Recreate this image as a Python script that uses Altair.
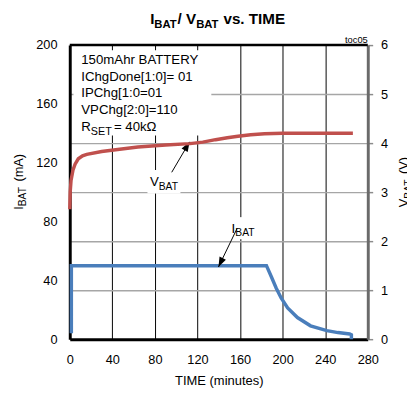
import altair as alt
import pandas as pd

# ---------------- data ----------------
time_ticks = [0, 40, 80, 120, 160, 200, 240, 280]
ibat_ticks = [0, 40, 80, 120, 160, 200]
vbat_ticks = [0, 1, 2, 3, 4, 5, 6]

vbat_time = [0, 0.4, 1.2, 3, 5, 8, 12, 16, 30, 45, 64, 90, 113, 125, 137, 148, 158, 170, 183, 200, 230, 266]
vbat_volts = [2.65, 3.0, 3.24, 3.45, 3.57, 3.68, 3.74, 3.77, 3.83, 3.87, 3.92, 3.96, 3.99, 4.02, 4.07, 4.11,
              4.14, 4.17, 4.19, 4.2, 4.2, 4.2]

ibat_time = [1.5, 1.5, 184.8, 189.4, 194, 198.6, 204.7, 213.9, 226.2, 241.5, 252, 263, 264.6, 264.6]
ibat_ma = [4, 50, 50, 42.5, 34.7, 28, 21.3, 14.7, 9.1, 5.8, 4.5, 3.5, 3, 0]

box_lines = ["150mAhr BATTERY", "IChgDone[1:0]= 01", "IPChg[1:0=01", "VPChg[2:0]=110"]

# ---------------- styling ----------------
FONT = "'Liberation Sans', Arial, sans-serif"
RED = "#c0504d"
BLUE = "#4a7ebb"

vdf = pd.DataFrame({"t": vbat_time, "v": vbat_volts, "i": list(range(len(vbat_time)))})
idf = pd.DataFrame({"t": ibat_time, "ma": ibat_ma, "i": list(range(len(ibat_time)))})
one = alt.InlineData(values=[{}])

hide_x_edges = {"condition": {"test": "datum.value == 0 || datum.value == 280", "value": 0}, "value": 1}
hide_v_edges = {"condition": {"test": "datum.value == 0 || datum.value == 6", "value": 0}, "value": 1}

x_enc = alt.X(
    "t:Q",
    scale=alt.Scale(domain=[0, 280], nice=False, zero=False),
    axis=alt.Axis(
        values=time_ticks, grid=True, gridColor="black", gridWidth=1, gridOpacity=hide_x_edges,
        domainColor="black", domainWidth=3, ticks=False, labelFlush=False,
        labelFont=FONT, labelFontSize=13, labelColor="black", labelPadding=15,
        title="TIME (minutes)", titleFont=FONT, titleFontSize=13.2, titleFontWeight="normal",
        titleColor="black", titlePadding=8,
    ),
)
y_ma = alt.Y(
    "ma:Q",
    scale=alt.Scale(domain=[0, 200], nice=False),
    axis=alt.Axis(
        orient="left", values=ibat_ticks, grid=False, ticks=False, domainColor="black", domainWidth=3,
        labelFont=FONT, labelFontSize=13, labelColor="black", labelPadding=13, labelFlush=False,
        title=None,
    ),
)


def dtxt(text, t, m, size, dx=0, dy=0, align="left", baseline="alphabetic"):
    return alt.Chart(one).mark_text(
        text=text, font=FONT, fontSize=size, align=align, baseline=baseline,
        dx=dx, dy=dy, color="black"
    ).encode(x=alt.datum(t), y=alt.datum(m))


def ptxt(text, px, py, size, weight="normal", angle=0, align="left"):
    return alt.Chart(one).mark_text(
        text=text, font=FONT, fontSize=size, fontWeight=weight, angle=angle,
        align=align, baseline="alphabetic", color="black"
    ).encode(x=alt.value(px), y=alt.value(py))


def wbox(t1, t2, m1, m2):
    return alt.Chart(one).mark_rect(color="white").encode(
        x=alt.datum(t1), x2=alt.datum(t2), y=alt.datum(m1), y2=alt.datum(m2))


def arrow(t0, m0, t1, m1, ang):
    shaft = alt.Chart(one).mark_rule(color="black", strokeWidth=1).encode(
        x=alt.datum(t0), y=alt.datum(m0), x2=alt.datum(t1), y2=alt.datum(m1))
    head = alt.Chart(one).mark_point(
        shape="M0,0 L-0.9,2.5 L0.9,2.5 Z", filled=True, color="black", opacity=1,
        size=64, angle=ang, strokeWidth=0
    ).encode(x=alt.datum(t1), y=alt.datum(m1))
    return [shaft, head]


ibat_line = alt.Chart(idf).mark_line(color=BLUE, strokeWidth=3.5).encode(
    x=x_enc, y=y_ma, order="i:Q")

top_rule = alt.Chart(one).mark_rule(color="black", strokeWidth=2.5).encode(
    x=alt.datum(0), x2=alt.datum(280), y=alt.datum(200))

ma_group = alt.layer(
    ibat_line,
    wbox(3.5, 133, 196.5, 138.5),
    wbox(73, 104, 115, 99),
    wbox(149, 176, 83, 68),
    top_rule,
    *arrow(95.8, 113.5, 112.6, 134.2, 30.5),
    *arrow(157.2, 75.3, 139.7, 49.1, 205.8),
    alt.Chart(one).mark_text(
        text=box_lines, font=FONT, fontSize=13.5, lineHeight=17.2, align="left",
        baseline="alphabetic", color="black"
    ).encode(x=alt.datum(10.8), y=alt.datum(187.3)),
    dtxt("R", 10.8, 141.5, 13.5),
    dtxt("SET", 10.8, 141.5, 11, dx=9.8, dy=4),
    dtxt("= 40kΩ", 10.8, 141.5, 13.5, dx=33.3),
    dtxt("V", 75.5, 104, 13.5),
    dtxt("BAT", 75.5, 104, 10.5, dx=8.8, dy=4),
    dtxt("I", 152, 72.5, 13.5),
    dtxt("BAT", 152, 72.5, 10.5, dx=3.8, dy=4),
)

vbat_line = alt.Chart(vdf).mark_line(color=RED, strokeWidth=3.5).encode(
    x=x_enc,
    y=alt.Y(
        "v:Q",
        scale=alt.Scale(domain=[0, 6], nice=False),
        axis=alt.Axis(
            orient="right", values=vbat_ticks, grid=True, gridColor="#a6a6a6", gridWidth=1.5,
            gridOpacity=hide_v_edges, domainColor="#6a6a6a", domainWidth=3,
            ticks=True, tickColor="#8c8c8c", tickSize=5, tickWidth=1.5,
            labelFont=FONT, labelFontSize=13, labelColor="black", labelPadding=8,
            labelFlush=False, title=None,
        ),
    ),
    order="i:Q",
)

furniture = alt.layer(
    # chart title with subscripts
    ptxt("I", 82, -21.5, 15.5, weight="bold"),
    ptxt("BAT", 86.3, -17.5, 11.5, weight="bold"),
    ptxt("/ V", 109.9, -21.5, 15.5, weight="bold"),
    ptxt("BAT", 128.9, -17.5, 11.5, weight="bold"),
    ptxt("vs. TIME", 156.8, -21.5, 15.5, weight="bold"),
    ptxt("toc05", 304, -2.5, 9.5, align="right"),
    # left axis title
    ptxt("I", -48, 168, 13, angle=270),
    ptxt("BAT", -44.5, 164.4, 10.5, angle=270),
    ptxt("(mA)", -48, 139.2, 13, angle=270),
    # right axis title (cut by the right edge, as in the reference)
    ptxt("V", 345.5, 165.5, 13, angle=270),
    ptxt("BAT", 349, 156.8, 10.5, angle=270),
    ptxt("(V)", 345.5, 131.6, 13, angle=270),
)

chart = alt.layer(ma_group, vbat_line, furniture).resolve_scale(y="independent").properties(
    width=304,
    height=300,
    autosize=alt.AutoSizeParams(type="none"),
    padding={"left": 63, "top": 34, "right": 40, "bottom": 48},
).configure_view(stroke=None)

chart.save("out.html", embed_options={"renderer": "svg", "actions": False})
